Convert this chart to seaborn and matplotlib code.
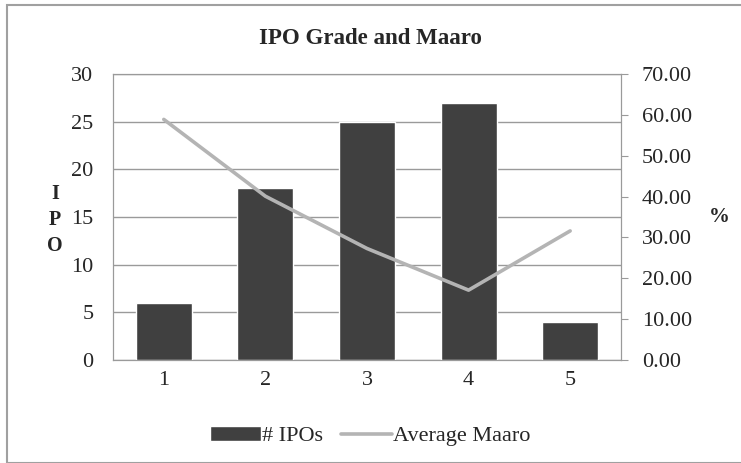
import matplotlib
matplotlib.use('Agg')
import matplotlib.pyplot as plt
import seaborn as sns
import pandas as pd
import numpy as np
from matplotlib.patches import Rectangle

grades = ['1', '2', '3', '4', '5']
ipo_counts = [6, 18, 25, 27, 4]
avg_maaro = [58.9, 40.1, 27.3, 17.1, 31.6]

df = pd.DataFrame({'grade': grades, 'ipos': ipo_counts, 'maaro': avg_maaro})

sns.set_style('white')
plt.rcParams['font.family'] = ['Liberation Serif', 'DejaVu Serif']

fig = plt.figure(figsize=(7.41, 4.63), dpi=100)
ax = fig.add_axes([0.1525, 0.2225, 0.6855, 0.6175])

# bars on the left axis
sns.barplot(data=df, x='grade', y='ipos', color='#404040', saturation=1,
            width=0.55, ax=ax, label='# IPOs', zorder=3)
ax.set_ylim(0, 30)
ax.set_yticks(range(0, 31, 5))
ax.yaxis.grid(True, color='#9a9a9a', linewidth=1)
ax.set_axisbelow(True)
ax.set_xlabel('')
ax.set_ylabel('I\nP\nO', rotation=0, fontsize=14.5, fontweight='bold',
              va='center', ha='center', linespacing=1.4)
ax.yaxis.set_label_coords(-0.114, 0.49)
ax.tick_params(axis='y', length=0, labelsize=16, pad=14)
ax.tick_params(axis='x', length=0, labelsize=16, pad=8)
for s in ax.spines.values():
    s.set_color('#9a9a9a')

# line on the right axis
ax2 = ax.twinx()
sns.lineplot(x=np.arange(len(grades)), y=df['maaro'], color='#b4b4b4',
             linewidth=2.6, ax=ax2, label='Average Maaro', zorder=4)
ax2.set_ylim(0, 70)
ax2.set_yticks(range(0, 71, 10))
ax2.set_yticklabels([f'{v:.2f}' for v in range(0, 71, 10)])
ax2.set_ylabel('%', rotation=0, fontsize=15, fontweight='bold',
               va='center', ha='center')
ax2.yaxis.set_label_coords(1.193, 0.5)
ax2.tick_params(axis='y', length=5, color='#9a9a9a', labelsize=16, pad=10)
for s in ax2.spines.values():
    s.set_color('#9a9a9a')
ax2.grid(False)
ax.set_xlim(-0.5, len(grades) - 0.5)

# legend below the plot
h1, l1 = ax.get_legend_handles_labels()
h2, l2 = ax2.get_legend_handles_labels()
if ax.get_legend():
    ax.get_legend().remove()
if ax2.get_legend():
    ax2.get_legend().remove()
fig.legend(h1 + h2, l1 + l2, loc='center', bbox_to_anchor=(0.5, 0.058),
           ncol=2, frameon=False, fontsize=16, handlelength=2.3,
           handletextpad=0.05, columnspacing=0.8)

fig.suptitle('IPO Grade and Maaro', fontsize=16.5, fontweight='bold', y=0.94)

# chart area border
fig.patches.append(Rectangle((0.009, 0.0), 1.2, 0.99, transform=fig.transFigure,
                             fill=False, edgecolor='#a0a0a0', linewidth=1.5))

fig.savefig('out.png', dpi=100)
plt.close()
